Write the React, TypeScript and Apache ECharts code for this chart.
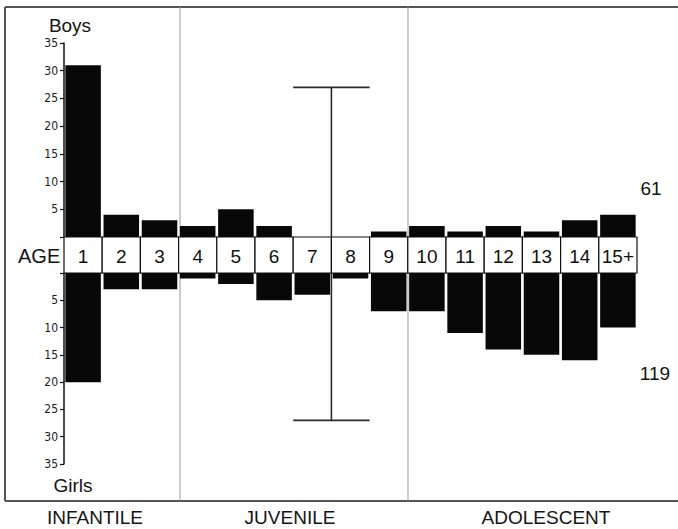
import React, { useEffect, useRef } from "react";
import * as echarts from "echarts";

const ages = ["1", "2", "3", "4", "5", "6", "7", "8", "9", "10", "11", "12", "13", "14", "15+"];
const boys = [31, 4, 3, 2, 5, 2, 0, 0, 1, 2, 1, 2, 1, 3, 4];
const girls = [20, 3, 3, 1, 2, 5, 4, 1, 7, 7, 11, 14, 15, 16, 10];
const axisMin = 0;
const axisMax = 35;
const axisStep = 5;
const errorBarAfter = "7";
const errorBarBoys = 27;
const errorBarGirls = 27;
const stages = ["INFANTILE", "JUVENILE", "ADOLESCENT"];
const sideLabels = ["Boys", "Girls", "AGE"];

const SANS = "'Liberation Sans', Arial, Helvetica, sans-serif";
const NARROW = "'Liberation Sans Narrow', 'DejaVu Sans Condensed', 'Liberation Sans', sans-serif";

export default function App() {
  const ref = useRef<HTMLDivElement>(null);

  useEffect(() => {
    if (!ref.current) return;
    const chart = echarts.init(ref.current, null, { renderer: "svg" });

    const totalBoys = boys.reduce((a, b) => a + b, 0);
    const totalGirls = girls.reduce((a, b) => a + b, 0);
    const ebIdx = ages.indexOf(errorBarAfter);

    const gridL = 64;
    const gridW = 573;

    const yAxisCommon = (gridIndex: number, inverse: boolean) => ({
      type: "value",
      gridIndex,
      min: axisMin,
      max: axisMax,
      interval: axisStep,
      inverse,
      axisLine: { show: true, lineStyle: { color: "#111", width: 1.5 } },
      axisTick: { show: true, length: 4, lineStyle: { color: "#111", width: 1.2 } },
      axisLabel: {
        margin: 6,
        color: "#1a1a1a",
        fontSize: 12,
        fontFamily: NARROW,
        formatter: (v: number) => (v === 0 ? "" : String(v)),
      },
      splitLine: { show: false },
    });

    const errorBarRender = (params: any, api: any) => {
      const i = api.value(0);
      const v = api.value(1);
      const tip = api.coord([i, v]);
      const base = api.coord([i, 0]);
      const w = api.size([1, 0])[0];
      const xb = tip[0] + w / 2;
      const style = { stroke: "#2a2a2a", lineWidth: 1.6 };
      return {
        type: "group",
        children: [
          { type: "line", shape: { x1: xb, y1: tip[1], x2: xb, y2: base[1] }, style },
          { type: "line", shape: { x1: xb - w, y1: tip[1], x2: xb + w, y2: tip[1] }, style },
        ],
      };
    };

    const txt = (text: string, x: number, y: number, fontSize: number, align = "center") => ({
      type: "text",
      x,
      y,
      style: { text, fontSize, fontFamily: SANS, fill: "#141414", align, verticalAlign: "middle" },
    });

    const option: any = {
      animation: false,
      backgroundColor: "#ffffff",
      grid: [
        { left: gridL, width: gridW, top: 43, height: 194 },
        { left: gridL, width: gridW, top: 237, height: 36 },
        { left: gridL, width: gridW, top: 273, height: 191 },
      ],
      xAxis: [0, 1, 2].map((g) => ({
        type: "category",
        gridIndex: g,
        data: ages,
        show: false,
      })),
      yAxis: [
        yAxisCommon(0, false),
        { type: "value", gridIndex: 1, min: 0, max: 1, show: false },
        yAxisCommon(2, true),
      ],
      series: [
        {
          type: "bar",
          name: "Boys",
          xAxisIndex: 0,
          yAxisIndex: 0,
          data: boys,
          barCategoryGap: "7%",
          itemStyle: { color: "#080808" },
          z: 3,
        },
        {
          type: "bar",
          name: "Girls",
          xAxisIndex: 2,
          yAxisIndex: 2,
          data: girls,
          barCategoryGap: "7%",
          itemStyle: { color: "#080808" },
          z: 3,
        },
        {
          type: "custom",
          name: "Age band",
          xAxisIndex: 1,
          yAxisIndex: 1,
          data: ages.map((_, i) => [i, 1]),
          z: 4,
          renderItem: (params: any, api: any) => {
            const i = api.value(0);
            const bottom = api.coord([i, 0]);
            const top = api.coord([i, 1]);
            const w = api.size([1, 0])[0];
            return {
              type: "group",
              children: [
                {
                  type: "rect",
                  shape: { x: bottom[0] - w / 2, y: top[1], width: w, height: bottom[1] - top[1] },
                  style: { fill: "#ffffff", stroke: "#111", lineWidth: 1.2 },
                },
                {
                  type: "text",
                  style: {
                    text: ages[params.dataIndex],
                    x: bottom[0],
                    y: (bottom[1] + top[1]) / 2 + 1,
                    align: "center",
                    verticalAlign: "middle",
                    fontSize: 19,
                    fontFamily: SANS,
                    fill: "#111",
                  },
                },
              ],
            };
          },
        },
        {
          type: "custom",
          name: "Range boys",
          xAxisIndex: 0,
          yAxisIndex: 0,
          data: [[ebIdx, errorBarBoys]],
          z: 5,
          renderItem: errorBarRender,
        },
        {
          type: "custom",
          name: "Range girls",
          xAxisIndex: 2,
          yAxisIndex: 2,
          data: [[ebIdx, errorBarGirls]],
          z: 5,
          renderItem: errorBarRender,
        },
      ],
      graphic: [
        { type: "line", z: 0, shape: { x1: 5, y1: 7, x2: 678, y2: 7 }, style: { stroke: "#555", lineWidth: 2 } },
        { type: "line", z: 0, shape: { x1: 5, y1: 7, x2: 5, y2: 501 }, style: { stroke: "#555", lineWidth: 2 } },
        { type: "line", z: 0, shape: { x1: 5, y1: 501, x2: 678, y2: 501 }, style: { stroke: "#555", lineWidth: 2 } },
        { type: "line", z: 0, shape: { x1: 180, y1: 7, x2: 180, y2: 501 }, style: { stroke: "#9a9a9a", lineWidth: 1 } },
        { type: "line", z: 0, shape: { x1: 408, y1: 7, x2: 408, y2: 501 }, style: { stroke: "#9a9a9a", lineWidth: 1 } },
        txt(sideLabels[0], 70, 25, 19),
        txt(sideLabels[1], 73, 485, 19),
        txt(sideLabels[2], 18, 256, 20, "left"),
        txt(stages[0], 95, 517, 19),
        txt(stages[1], 290, 517, 19),
        txt(stages[2], 546, 517, 19),
        txt(String(totalBoys), 651, 188, 19),
        txt(String(totalGirls), 655, 373, 19),
      ],
    };

    chart.setOption(option);
    return () => chart.dispose();
  }, []);

  return (
    <div
      ref={ref}
      style={{ position: "absolute", left: 0, top: 0, width: 678, height: 529, background: "#fff" }}
    />
  );
}
